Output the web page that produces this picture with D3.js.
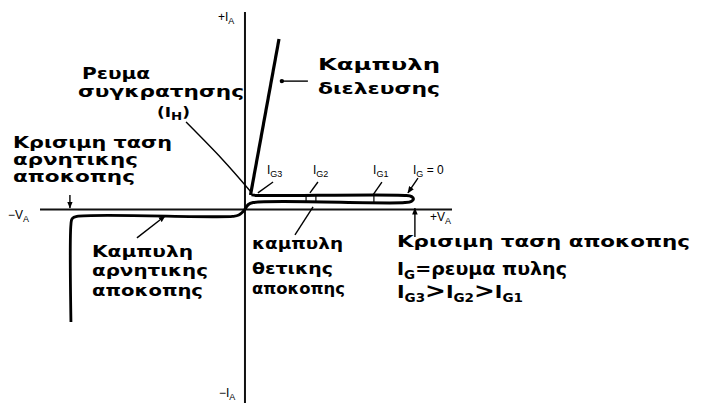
<!DOCTYPE html>
<html><head><meta charset="utf-8">
<script src="https://cdn.jsdelivr.net/npm/d3@7"></script>
<style>body{margin:0;background:#fff}svg{display:block}</style>
</head><body>
<svg id="c" width="704" height="404"></svg>
<script>
// ---- data (anode voltage V, anode current I, arbitrary units) ----
const axisV = [-100, 101];
const axisI = [-98, 100];
const conductionV = [2.7, 16.6];
const conductionI = [7.3, 86.3];
const blockingV = [0, 1.5, 4, 78, 81.3, 82.2, 81.3, 78, 6, 3.2];
const blockingI = [0, 2.4, 3.5, 3.5, 4.2, 5.3, 6.5, 7.1, 7.1, 7.4];
const reverseV = [0, -3, -6, -82, -84.3, -84.9, -84.9];
const reverseI = [0, -2.8, -3.5, -3.5, -4.6, -7.5, -57];
const gateMarkV = [29.8, 34.6, 62.9];
const gateLabels = ["G3", "G2", "G1"];
const gateLabelV = [10.7, 33.2, 62.5];
const gateLeaderFromV = [13.7, 35.6, 66.8];
const gateLeaderToV = [6.3, 31.7, 62.4];
const gateLeaderFromI = [13.9, 13.9, 13.9];
const gateLeaderToI = [8.4, 8.4, 7.3];

// ---- scales ----
const svg = d3.select("#c");
const x = d3.scaleLinear().domain(axisV).range([40, 452]);
const y = d3.scaleLinear().domain(axisI).range([403, 12]);

const defs = svg.append("defs");
defs.append("marker").attr("id","arr").attr("viewBox","0 0 10 10")
  .attr("refX",9).attr("refY",5).attr("markerWidth",7).attr("markerHeight",7)
  .attr("markerUnits","userSpaceOnUse").attr("orient","auto")
  .append("path").attr("d","M0,1 L10,5 L0,9 Z").attr("fill","#000");

const g = svg.append("g");
// axes
g.append("line").attr("x1", x(0)).attr("x2", x(0)).attr("y1", y(axisI[1])).attr("y2", y(axisI[0]))
  .attr("stroke","#111").attr("stroke-width",2);
g.append("line").attr("x1", x(axisV[0])).attr("x2", x(axisV[1])).attr("y1", y(0)).attr("y2", y(0))
  .attr("stroke","#111").attr("stroke-width",2);

const line = d3.line().x(d=>x(d[0])).y(d=>y(d[1]));
const curve = d3.line().x(d=>x(d[0])).y(d=>y(d[1])).curve(d3.curveCatmullRom.alpha(0.5));

// conduction curve
g.append("path").attr("d", line(d3.zip(conductionV, conductionI)))
  .attr("fill","none").attr("stroke","#000").attr("stroke-width",3.2);
// forward blocking loop
g.append("path").attr("d", curve(d3.zip(blockingV, blockingI)))
  .attr("fill","none").attr("stroke","#000").attr("stroke-width",3).attr("stroke-linejoin","round");
// reverse blocking
g.append("path").attr("d", curve(d3.zip(reverseV, reverseI)))
  .attr("fill","none").attr("stroke","#000").attr("stroke-width",2.8);
// gate marks
gateMarkV.forEach(v => {
  g.append("line").attr("x1", x(v)).attr("x2", x(v)).attr("y1", y(blockingI[3])).attr("y2", y(blockingI[7]))
   .attr("stroke","#000").attr("stroke-width",1.2);
});

// leader lines
function leader(v1,i1,v2,i2,arrow){
  const l = g.append("line").attr("x1",x(v1)).attr("y1",y(i1)).attr("x2",x(v2)).attr("y2",y(i2))
    .attr("stroke","#000").attr("stroke-width",1.4);
  if(arrow) l.attr("marker-end","url(#arr)");
}
gateLeaderFromV.forEach((v,k)=>leader(v, gateLeaderFromI[k], gateLeaderToV[k], gateLeaderToI[k], false));
leader(84.4, 15.9, 79.5, 8.4, true);          // IG = 0
leader(82.9, -14, 82.9, 0.6, true);           // critical forward voltage
leader(-85.4, 7.3, -85.4, 0.8, true);         // critical reverse voltage
leader(33.2, 1.3, 24.4, -12.9, false);        // forward blocking label
leader(-52.7, -14.4, -39, -3.3, true);        // reverse blocking label
leader(30.7, 65, 18, 65, false);              // conduction label
g.append("circle").attr("cx", x(18)).attr("cy", y(65)).attr("r",2.2).attr("fill","#000");
// holding current leader (curved)
g.append("path").attr("d", d3.line().curve(d3.curveNatural)([[186,122],[222,159],[251,192]]))
  .attr("fill","none").attr("stroke","#000").attr("stroke-width",1.4);

// ---- texts ----
const F = "'DejaVu Sans', Verdana, sans-serif";
function bold(t, px, py, w, fs){
  const e = g.append("text").attr("x",px).attr("y",py).attr("font-family",F).attr("font-weight","bold")
    .attr("font-size",fs||15).attr("fill","#000").text(t);
  if(w) e.attr("textLength",w).attr("lengthAdjust","spacingAndGlyphs");
  return e;
}
bold("Ρευμα", 82, 79, 68, 16);
bold("συγκρατησης", 78, 97, 166, 16);
const ih = g.append("text").attr("x",157).attr("y",117).attr("font-family",F).attr("font-weight","bold").attr("font-size",14)
  .attr("textLength",33).attr("lengthAdjust","spacingAndGlyphs");
ih.append("tspan").text("(I");
ih.append("tspan").attr("dy",3).attr("font-size",11).text("H");
ih.append("tspan").attr("dy",-3).text(")");

bold("Καμπυλη", 318, 70, 122, 16);
bold("διελευσης", 318, 94, 122, 16);

bold("Κρισιμη ταση", 13, 148, 159, 15);
bold("αρνητικης", 13, 165, 125, 15);
bold("αποκοπης", 13, 182, 122, 15);

bold("Καμπυλη", 92, 257, 101, 15);
bold("αρνητικης", 92, 276, 116, 15);
bold("αποκοπης", 92, 296, 111, 15);

bold("καμπυλη", 252, 249, 91, 15);
bold("θετικης", 252, 274, 81, 15);
bold("αποκοπης", 252, 294, 93, 15);

bold("Κρισιμη  ταση  αποκοπης", 397, 247, 293, 15);
const t1 = g.append("text").attr("x",397).attr("y",275).attr("font-family",F).attr("font-weight","bold").attr("font-size",17)
  .attr("textLength",170).attr("lengthAdjust","spacingAndGlyphs");
t1.append("tspan").text("I");
t1.append("tspan").attr("dy",4).attr("font-size",12).text("G");
t1.append("tspan").attr("dy",-4).text("=ρευμα  πυλης");
const t2 = g.append("text").attr("x",397).attr("y",298).attr("font-family",F).attr("font-weight","bold").attr("font-size",18)
  .attr("textLength",126).attr("lengthAdjust","spacingAndGlyphs");
[["I",0,18],["G3",4,12],[">",-4,22],["I",0,18],["G2",4,12],[">",-4,22],["I",0,18],["G1",4,12]].forEach(p=>{
  t2.append("tspan").attr("dy",p[1]).attr("font-size",p[2]).text(p[0]);
});

// small labels
const S = "'Liberation Sans', Arial, sans-serif";
function small(px, py, main, sub, tail){
  const e = g.append("text").attr("x",px).attr("y",py).attr("font-family",S).attr("font-size",12).attr("fill","#000");
  e.append("tspan").text(main);
  e.append("tspan").attr("dy",3).attr("font-size",9).text(sub);
  if(tail) e.append("tspan").attr("dy",-3).text(tail);
  return e;
}
gateLabels.forEach((s,k)=>small(x(gateLabelV[k]), 174, "I", s));
small(413, 174, "I", "G", " = 0");
small(218, 21, "+I", "A");
small(219, 397, "−I", "A");
small(8, 219, "−V", "A");
small(430, 221, "+V", "A");
</script>
</body></html>
